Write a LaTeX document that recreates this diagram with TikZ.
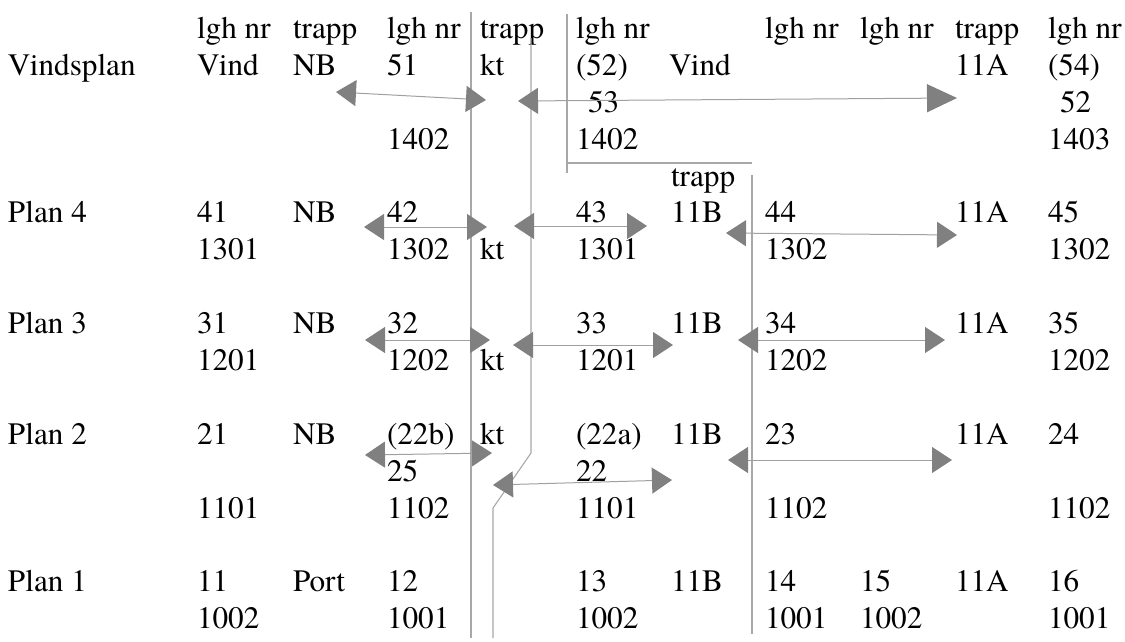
\documentclass[tikz,border=0pt]{standalone}
\usepackage{fontspec}
\setmainfont{TeX Gyre Termes}
\usetikzlibrary{arrows.meta}
\definecolor{wallgray}{HTML}{A8A8A8}
\definecolor{linkgray}{HTML}{A0A0A0}
\definecolor{headgray}{HTML}{808080}
\tikzset{
  txt/.style={anchor=base west, inner sep=0pt, outer sep=0pt, font=\fontsize{31.2}{36}\selectfont},
  wall/.style={draw=wallgray, line width=1.1pt},
  link/.style={draw=linkgray, line width=1pt,
    {Triangle[length=20pt,width=26pt,color=headgray]}-{Triangle[length=20pt,width=26pt,color=headgray]}},
  biglink/.style={draw=linkgray, line width=1pt,
    {Triangle[length=20pt,width=26pt,color=headgray]}-{Triangle[length=30pt,width=28pt,color=headgray]}},
}
\begin{document}
\begin{tikzpicture}[x=1pt,y=-1pt]
\useasboundingbox (0,0) rectangle (1125,641);
% header
\foreach \x/\t/\n in {197/lgh nr/a1,293/trapp/a2,387/lgh nr/a3,480/trapp/a4,576/lgh nr/a5,765/lgh nr/a7,860/lgh nr/a8,955/trapp/a9,1048/lgh nr/a10}
  \node[txt] (\n) at (\x,38) {\t};
\foreach \x/\t/\n in {8/Vindsplan/b0,197/Vind/b1,293/NB/b2,387/51/b3,480/kt/b4,576/(52)/b5,669/Vind/b6,955/11A/b9,1048/(54)/b10}
  \node[txt] (\n) at (\x,75) {\t};
\foreach \x/\t/\n in {588/53/c5,1060/52/c10}
  \node[txt] (\n) at (\x,112) {\t};
\foreach \x/\t/\n in {387/1402/d3,576/1402/d5,1048/1403/d10}
  \node[txt] (\n) at (\x,149) {\t};
\node[txt] (e6) at (671,186) {trapp};
% plan 4
\foreach \x/\t/\n in {8/Plan 4/p40,197/41/p41,293/NB/p42,387/42/p43,576/43/p45,671/11B/p46,765/44/p47,955/11A/p49,1048/45/p410}
  \node[txt] (\n) at (\x,222.5) {\t};
\foreach \x/\t/\n in {197/1301/q41,387/1302/q43,480/kt/q44,576/1301/q45,765/1302/q47,1048/1302/q410}
  \node[txt] (\n) at (\x,259) {\t};
% plan 3
\foreach \x/\t/\n in {8/Plan 3/p30,197/31/p31,293/NB/p32,387/32/p33,576/33/p35,671/11B/p36,765/34/p37,955/11A/p39,1048/35/p310}
  \node[txt] (\n) at (\x,333) {\t};
\foreach \x/\t/\n in {197/1201/q31,387/1202/q33,480/kt/q34,576/1201/q35,765/1202/q37,1048/1202/q310}
  \node[txt] (\n) at (\x,370) {\t};
% plan 2
\foreach \x/\t/\n in {8/Plan 2/p20,197/21/p21,293/NB/p22,387/(22b)/p23,480/kt/p24,576/(22a)/p25,671/11B/p26,765/23/p27,955/11A/p29,1048/24/p210}
  \node[txt] (\n) at (\x,444) {\t};
\foreach \x/\t/\n in {387/25/q23,576/22/q25}
  \node[txt] (\n) at (\x,481) {\t};
\foreach \x/\t/\n in {197/1101/r21,387/1102/r23,576/1101/r25,765/1102/r27,1048/1102/r210}
  \node[txt] (\n) at (\x,518) {\t};
% plan 1
\foreach \x/\t/\n in {8/Plan 1/p10,197/11/p11,293/Port/p12,387/12/p13,576/13/p15,671/11B/p16,765/14/p17,860/15/p18,955/11A/p19,1048/16/p110}
  \node[txt] (\n) at (\x,591) {\t};
\foreach \x/\t/\n in {197/1002/q11,387/1001/q13,576/1002/q15,765/1001/q17,860/1002/q18,1048/1001/q110}
  \node[txt] (\n) at (\x,628) {\t};
% walls
\draw[wall] (471,12) -- (471,638);
\draw[wall] (531,38) -- (531,453) -- (493,508) -- (493,638);
\draw[wall] (567,14) -- (567,173);
\draw[wall] (567,163) -- (752,163);
\draw[wall] (752,175) -- (752,634);
% arrow end points
\coordinate (v1l) at (336,92);  \coordinate (v1r) at (486,100);
\coordinate (v2l) at (518,101); \coordinate (v2r) at (957,98);
\coordinate (f1l) at (364,227); \coordinate (f1r) at (487,227);
\coordinate (f2l) at (514,226); \coordinate (f2r) at (647,226);
\coordinate (f3l) at (726,233); \coordinate (f3r) at (957,235);
\coordinate (t1l) at (365,340); \coordinate (t1r) at (490,340);
\coordinate (t2l) at (513,345); \coordinate (t2r) at (673,345);
\coordinate (t3l) at (738,340); \coordinate (t3r) at (945,340);
\coordinate (s1l) at (365,455); \coordinate (s1r) at (492,453);
\coordinate (s2l) at (493,485); \coordinate (s2r) at (672,480);
\coordinate (s3l) at (728,460); \coordinate (s3r) at (952,460);
\draw[link] (v1l) -- (v1r);
\draw[biglink] (v2l) -- (v2r);
\foreach \a in {f1,f2,f3,t1,t2,t3,s1,s2,s3}
  \draw[link] (\a l) -- (\a r);
\end{tikzpicture}
\end{document}
